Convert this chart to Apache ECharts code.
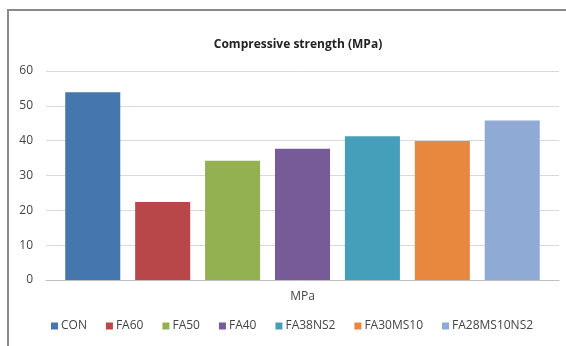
<!DOCTYPE html>
<html>
<head>
<meta charset="utf-8">
<script src="https://cdn.jsdelivr.net/npm/echarts@6/dist/echarts.min.js"></script>
<style>
  html, body { margin: 0; padding: 0; background: #fff; }
  #chart { width: 566px; height: 346px; }
</style>
</head>
<body>
<div id="chart"></div>
<script>
// Mix designs and their compressive strength (MPa)
const mixes = ['CON', 'FA60', 'FA50', 'FA40', 'FA38NS2', 'FA30MS10', 'FA28MS10NS2'];
const strength = [53.9, 22.4, 34.2, 37.7, 41.3, 39.9, 45.8];
const categories = ['MPa'];
const yTicks = { min: 0, max: 60, interval: 10 };
const palette = ['#4676AE', '#B8474A', '#93B151', '#775A98', '#459FBA', '#E8883F', '#8FAAD4'];

const series = mixes.map((name, i) => ({
  name: name,
  type: 'bar',
  data: [strength[i]],
  itemStyle: { color: palette[i] },
  barGap: '27%',
  barCategoryGap: '7.5%'
}));

const chart = echarts.init(document.getElementById('chart'), null, { renderer: 'canvas' });
chart.setOption({
  animation: false,
  textStyle: { fontFamily: 'Open Sans, Liberation Sans, sans-serif' },
  graphic: [{
    type: 'rect',
    shape: { x: 8, y: 10, width: 620, height: 400 },
    style: { fill: 'none', stroke: '#8a8a8a', lineWidth: 2 },
    silent: true,
    z: -1
  }],
  title: {
    text: 'Compressive strength (MPa)',
    left: 293,
    textAlign: 'center',
    top: 34,
    textStyle: { fontSize: 12, fontWeight: 'bold', color: '#222' }
  },
  grid: { left: 46, right: 7, top: 71, bottom: 66 },
  xAxis: {
    type: 'category',
    data: categories,
    axisLine: { lineStyle: { color: '#bfbfbf' } },
    axisTick: { show: false },
    axisLabel: { color: '#444', fontSize: 12, margin: 11 }
  },
  yAxis: {
    type: 'value',
    min: yTicks.min,
    max: yTicks.max,
    interval: yTicks.interval,
    axisLine: { show: false },
    axisTick: { show: false },
    splitLine: { lineStyle: { color: '#d9d9d9' } },
    axisLabel: { color: '#444', fontSize: 12, margin: 13 }
  },
  legend: {
    data: mixes,
    bottom: 9,
    left: 46,
    itemWidth: 7,
    itemHeight: 7,
    itemGap: 19,
    icon: 'rect',
    textStyle: { color: '#444', fontSize: 12, padding: [0, 0, 0, -2] }
  },
  series: series
});
</script>
</body>
</html>
